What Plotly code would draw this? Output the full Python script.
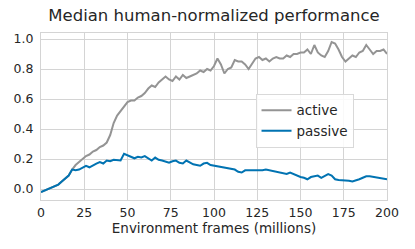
import plotly.graph_objects as go

frames = list(range(0, 201, 2))

active = [-0.02, -0.01, 0.0, 0.01, 0.015, 0.03, 0.05, 0.07, 0.09, 0.13,
          0.16, 0.18, 0.20, 0.22, 0.23, 0.25, 0.26, 0.28, 0.29, 0.31,
          0.36, 0.44, 0.49, 0.52, 0.55, 0.58, 0.59, 0.59, 0.61, 0.62,
          0.64, 0.67, 0.69, 0.68, 0.71, 0.73, 0.75, 0.73, 0.72, 0.75,
          0.73, 0.76, 0.74, 0.75, 0.76, 0.77, 0.79, 0.78, 0.80, 0.79,
          0.82, 0.87, 0.83, 0.77, 0.80, 0.81, 0.86, 0.85, 0.85, 0.83,
          0.80, 0.84, 0.87, 0.88, 0.86, 0.87, 0.85, 0.87, 0.88, 0.87,
          0.87, 0.89, 0.88, 0.90, 0.90, 0.91, 0.91, 0.93, 0.90, 0.96,
          0.91, 0.89, 0.88, 0.92, 0.98, 0.97, 0.93, 0.88, 0.85, 0.87,
          0.89, 0.88, 0.91, 0.92, 0.96, 0.93, 0.90, 0.92, 0.92, 0.93,
          0.90]

passive = [-0.02, -0.01, 0.0, 0.01, 0.015, 0.03, 0.05, 0.07, 0.09, 0.13,
           0.125, 0.13, 0.14, 0.155, 0.145, 0.16, 0.17, 0.18, 0.17, 0.19,
           0.185, 0.195, 0.19, 0.19, 0.235, 0.225, 0.215, 0.205, 0.215, 0.21,
           0.22, 0.205, 0.19, 0.21, 0.195, 0.19, 0.185, 0.175, 0.185, 0.19,
           0.175, 0.17, 0.19, 0.175, 0.165, 0.16, 0.155, 0.17, 0.175, 0.16,
           0.155, 0.155, 0.145, 0.14, 0.14, 0.135, 0.13, 0.115, 0.11, 0.125,
           0.125, 0.12, 0.125, 0.125, 0.125, 0.13, 0.125, 0.12, 0.115, 0.115,
           0.11, 0.10, 0.11, 0.10, 0.085, 0.08, 0.075, 0.065, 0.08, 0.085,
           0.09, 0.075, 0.085, 0.10, 0.09, 0.065, 0.06, 0.06, 0.06, 0.055,
           0.05, 0.055, 0.065, 0.075, 0.085, 0.085, 0.08, 0.075, 0.07, 0.065,
           0.065]

x_ticks = [0, 25, 50, 75, 100, 125, 150, 175, 200]
y_ticks = [0.0, 0.2, 0.4, 0.6, 0.8, 1.0]

fig = go.Figure()
fig.add_trace(go.Scatter(x=frames, y=active, mode="lines", name="active",
                         line=dict(color="#949494", width=2)))
fig.add_trace(go.Scatter(x=frames, y=passive, mode="lines", name="passive",
                         line=dict(color="#0173b2", width=2)))

font = "DejaVu Sans"
fig.update_layout(
    width=415, height=249,
    margin=dict(l=41, r=28, t=33, b=49),
    paper_bgcolor="white", plot_bgcolor="white",
    font=dict(family=font, size=12.5, color="#262626"),
    title=dict(text="Median human-normalized performance", x=0.5, xref="paper",
               xanchor="center", y=1, yref="container", yanchor="top",
               pad=dict(t=9), font=dict(size=16.5, color="#262626")),
    showlegend=True,
    legend=dict(x=0.62, y=0.635, xanchor="left", yanchor="top",
                bgcolor="rgba(255,255,255,0.85)", bordercolor="#d9d9d9", borderwidth=1,
                font=dict(size=13.5, color="#262626"), tracegroupgap=0,
                itemwidth=30),
)
fig.update_xaxes(range=[0, 200], tickvals=x_ticks, showgrid=True, gridcolor="#d4d4d4",
                 gridwidth=1, showline=True, linecolor="#d4d4d4", mirror=True,
                 zeroline=False, ticks="", ticklabelstandoff=1, automargin=False,
                 tickfont=dict(size=12.5),
                 title=dict(text="Environment frames (millions)", font=dict(size=13.5), standoff=3))
fig.update_yaxes(range=[-0.073, 1.04], tickvals=y_ticks, tickformat=".1f", showgrid=True,
                 gridcolor="#d4d4d4", gridwidth=1, showline=True, linecolor="#d4d4d4",
                 mirror=True, zeroline=False, ticks="", ticklabelstandoff=4, automargin=False,
                 tickfont=dict(size=12.5))

fig.write_html("out.html", config={"displayModeBar": False},
               post_script="document.body.style.margin='0';")
